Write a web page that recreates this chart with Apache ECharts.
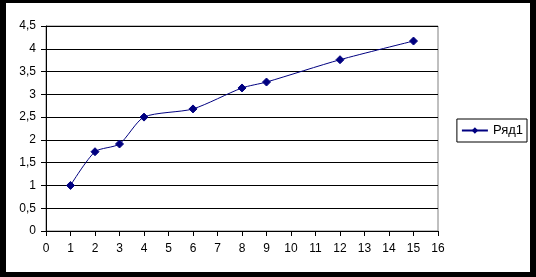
<!DOCTYPE html>
<html><head><meta charset="utf-8">
<script src="https://cdn.jsdelivr.net/npm/echarts@6/dist/echarts.min.js"></script>
<style>
html,body{margin:0;padding:0;background:#000;width:536px;height:277px;overflow:hidden;}
#bg{position:absolute;left:6px;top:3px;width:524px;height:269px;background:#fff;}
#c{position:absolute;left:0;top:0;width:536px;height:277px;}
</style></head>
<body><div id="bg"></div><div id="c"></div>
<script>
const xValues = [1, 2, 3, 4, 6, 8, 9, 12, 15];
const yValues = [1.0, 1.74, 1.91, 2.5, 2.68, 3.14, 3.27, 3.76, 4.17];
const seriesName = 'Ряд1';
const xMin = 0, xMax = 16, xStep = 1;
const yMin = 0, yMax = 4.5, yStep = 0.5;

const font = 'Liberation Sans, Arial, sans-serif';
const chart = echarts.init(document.getElementById('c'));
chart.setOption({
  backgroundColor: 'transparent',
  animation: false,
  grid: {left: 46, right: 98, top: 26, bottom: 46, show: true, borderColor: '#808080', borderWidth: 1, backgroundColor: 'transparent'},
  legend: {
    right: 9, top: 119, orient: 'vertical',
    data: [seriesName],
    borderColor: '#000', borderWidth: 1, padding: [5, 4, 5, 4],
    itemWidth: 26, itemHeight: 8, itemGap: 0,
    textStyle: {fontFamily: font, fontSize: 13, color: '#000'}
  },
  xAxis: {
    type: 'value', min: xMin, max: xMax, interval: xStep,
    axisLine: {show: true, lineStyle: {color: '#000', width: 1}},
    axisTick: {show: true, length: 5, inside: false, lineStyle: {color: '#000'}},
    splitLine: {show: false},
    axisLabel: {fontFamily: font, fontSize: 12, color: '#000', margin: 12}
  },
  yAxis: {
    type: 'value', min: yMin, max: yMax, interval: yStep,
    axisLine: {show: true, lineStyle: {color: '#000', width: 1}},
    axisTick: {show: true, length: 5, lineStyle: {color: '#000'}},
    splitLine: {show: true, lineStyle: {color: '#000', width: 1}},
    axisLabel: {fontFamily: font, fontSize: 12, color: '#000', margin: 10,
      formatter: v => String(v).replace('.', ',')}
  },
  series: [{
    name: seriesName, type: 'line',
    data: xValues.map((x, i) => [x, yValues[i]]),
    smooth: 0.25,
    symbol: 'diamond', symbolSize: 8,
    lineStyle: {color: '#000080', width: 1},
    itemStyle: {color: '#000080', borderColor: '#000080'}
  }]
});
</script></body></html>
